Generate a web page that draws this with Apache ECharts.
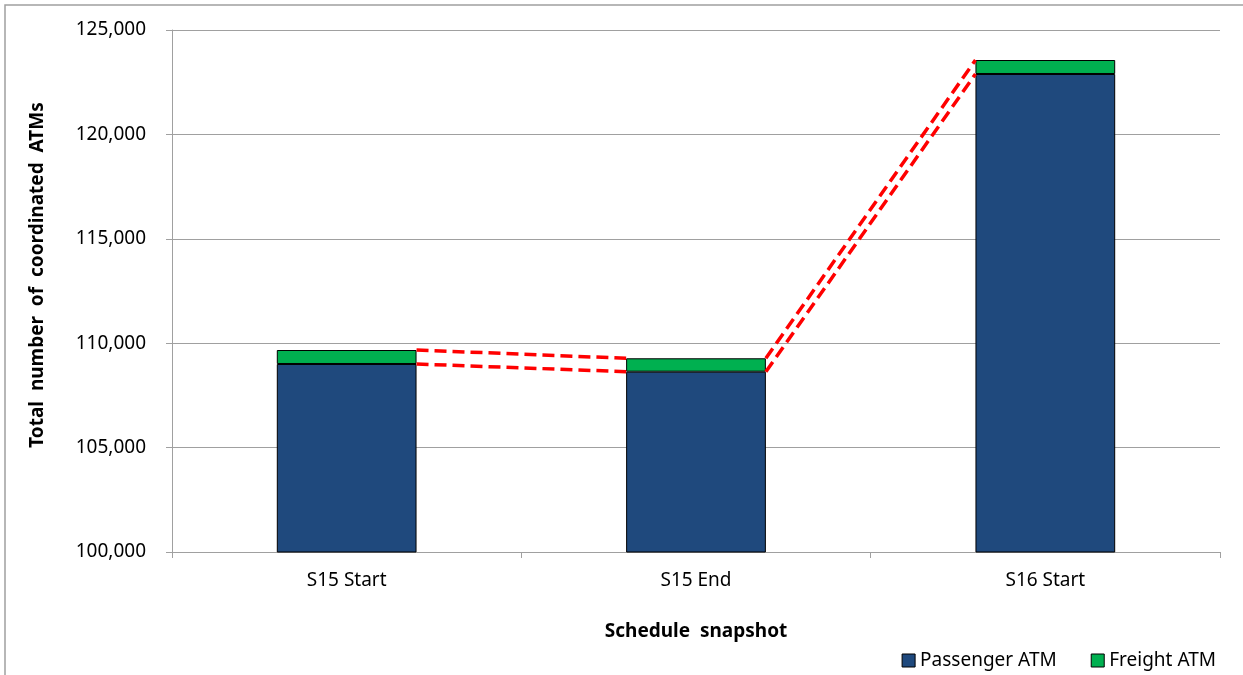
<!DOCTYPE html>
<html>
<head>
<meta charset="utf-8">
<script src="https://cdn.jsdelivr.net/npm/echarts@6/dist/echarts.min.js"></script>
<style>
  html, body { margin: 0; padding: 0; background: #fff; }
  #main { width: 1243px; height: 675px; }
</style>
</head>
<body>
<div id="main"></div>
<script>
const categories = ['S15 Start', 'S15 End', 'S16 Start'];
const passenger = [109004, 108635, 122893];
const freight = [670, 642, 670];
const yTicks = { min: 100000, max: 125000, step: 5000 };

// totals for the upper series line
const totals = passenger.map((v, i) => v + freight[i]);

// series lines: [fromIndex, fromValue, toValue]
function seriesLines(vals) {
  const out = [];
  for (let i = 0; i < vals.length - 1; i++) out.push([i, vals[i], vals[i + 1]]);
  return out;
}

const barWidthRatio = 0.4;

function renderSeriesLine(params, api) {
  const i = api.value(0);
  const p0 = api.coord([i, api.value(1)]);
  const p1 = api.coord([i + 1, api.value(2)]);
  const half = api.size([1, 0])[0] * barWidthRatio / 2;
  return {
    type: 'line',
    shape: { x1: p0[0] + half, y1: p0[1], x2: p1[0] - half, y2: p1[1] },
    style: { stroke: '#FF0000', lineWidth: 3.5, lineDash: [12, 6] }
  };
}

const chart = echarts.init(document.getElementById('main'));

const option = {
  animation: false,
  textStyle: { fontFamily: 'Noto Sans', color: '#000' },
  graphic: [{
    type: 'rect',
    shape: { x: 5, y: 5, width: 1250, height: 700 },
    style: { fill: 'none', stroke: '#A0A0A0', lineWidth: 1.5 },
    silent: true
  }],
  grid: { left: 172, right: 23, top: 30, bottom: 123 },
  legend: {
    data: ['Passenger ATM', 'Freight ATM'],
    right: 22,
    top: 646,
    itemWidth: 13,
    itemHeight: 13,
    itemGap: 34,
    icon: 'rect',
    textStyle: { fontSize: 19, color: '#000', fontFamily: 'Noto Sans' },
    itemStyle: { borderColor: '#000', borderWidth: 1 }
  },
  xAxis: {
    type: 'category',
    data: categories,
    name: 'Schedule  snapshot',
    nameLocation: 'middle',
    nameGap: 70,
    nameTextStyle: { fontSize: 19, fontWeight: 'bold', color: '#000' },
    axisLine: { lineStyle: { color: '#A0A0A0', width: 1 } },
    axisTick: { show: true, alignWithLabel: false, length: 6, lineStyle: { color: '#A0A0A0' } },
    axisLabel: { fontSize: 19, color: '#000', margin: 19 }
  },
  yAxis: {
    type: 'value',
    min: yTicks.min,
    max: yTicks.max,
    interval: yTicks.step,
    name: 'Total  number  of  coordinated  ATMs',
    nameLocation: 'middle',
    nameGap: 125,
    nameTextStyle: { fontSize: 19, fontWeight: 'bold', color: '#000', padding: [0, 0, 0, 32] },
    axisLine: { show: true, lineStyle: { color: '#A0A0A0', width: 1 } },
    axisTick: { show: true, length: 6, lineStyle: { color: '#A0A0A0' } },
    axisLabel: {
      fontSize: 19, color: '#000', margin: 26,
      formatter: v => v.toLocaleString('en-US')
    },
    splitLine: { lineStyle: { color: '#A0A0A0', width: 1 } }
  },
  series: [
    {
      name: 'Passenger ATM',
      type: 'bar',
      stack: 'atm',
      barWidth: (barWidthRatio * 100) + '%',
      data: passenger,
      itemStyle: { color: '#1F497D', borderColor: '#000', borderWidth: 1 }
    },
    {
      name: 'Freight ATM',
      type: 'bar',
      stack: 'atm',
      barWidth: (barWidthRatio * 100) + '%',
      data: freight,
      itemStyle: { color: '#00B050', borderColor: '#000', borderWidth: 1 }
    },
    {
      name: 'passengerLine',
      type: 'custom',
      renderItem: renderSeriesLine,
      encode: { x: 0, y: [1, 2] },
      data: seriesLines(passenger),
      z: 3
    },
    {
      name: 'totalLine',
      type: 'custom',
      renderItem: renderSeriesLine,
      encode: { x: 0, y: [1, 2] },
      data: seriesLines(totals),
      z: 3
    }
  ]
};

chart.setOption(option);
</script>
</body>
</html>
